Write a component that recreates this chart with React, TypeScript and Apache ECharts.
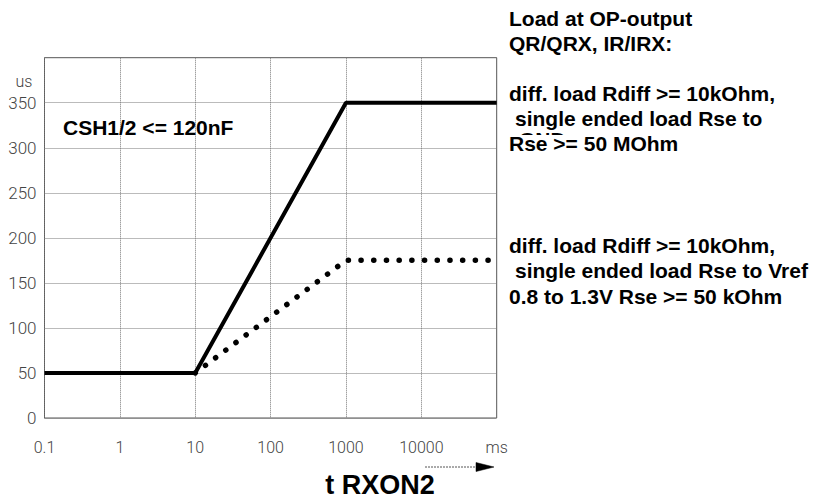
import React, { useEffect, useRef } from "react";
import * as echarts from "echarts";

const xTicks = [0.1, 1, 10, 100, 1000, 10000, 100000];
const xTickLabels = ["0.1", "1", "10", "100", "1000", "10000", "ms"];
const yTickHidden = [400];
const solidSeries: [number, number][] = [
  [0.1, 50],
  [10, 50],
  [1000, 350],
  [100000, 350],
];
const dottedSeries: [number, number][] = [
  [10, 50],
  [1000, 175],
  [100000, 175],
];
const noteTop = [
  "Load at OP-output",
  "QR/QRX, IR/IRX:",
  "",
  "diff. load Rdiff >= 10kOhm,",
  " single ended load Rse to",
  "Rse >= 50 MOhm",
];
const noteBottom = [
  "diff. load Rdiff >= 10kOhm,",
  " single ended load Rse to Vref",
  "0.8 to 1.3V Rse >= 50 kOhm",
];
const capText = "CSH1/2 <= 120nF";
const xTitle = "t RXON2";
const yUnit = "us";

export default function App() {
  const ref = useRef<HTMLDivElement>(null);
  useEffect(() => {
    if (!ref.current) return;
    const chart = echarts.init(ref.current, undefined, { renderer: "svg" });
    const boldFont = "Liberation Sans, Arial, sans-serif";
    const tickFont = "Roboto, Liberation Sans, sans-serif";
    const noteLine = (t: string, x: number, y: number) => ({
      type: "text",
      x: t.startsWith(" ") ? x + 6 : x,
      y,
      z: 10,
      style: {
        text: t.trim(),
        fill: "#000",
        font: `bold 21px ${boldFont}`,
        verticalAlign: "middle",
        align: "left",
      },
    });
    const topYs = [18, 43, 68, 93, 118, 143];
    const botYs = [245, 270, 296];
    const graphics: any[] = [];
    noteTop.forEach((t, i) => {
      if (t && i !== 5) graphics.push(noteLine(t, 509, topYs[i]));
    });
    // wrapped "GND" hidden behind last line
    graphics.push({
      type: "text",
      x: 519,
      y: 139,
      z: 9,
      style: { text: "GND", fill: "#000", font: `bold 21px ${boldFont}`, verticalAlign: "middle" },
    });
    graphics.push({
      type: "rect",
      z: 9,
      shape: { x: 505, y: 135, width: 70, height: 20 },
      style: { fill: "#fff" },
    });
    graphics.push(noteLine(noteTop[5], 509, topYs[5]));
    noteBottom.forEach((t, i) => graphics.push(noteLine(t, 509, botYs[i])));
    graphics.push({
      type: "text",
      x: 63,
      y: 127,
      z: 10,
      style: { text: capText, fill: "#000", font: `bold 21px ${boldFont}`, verticalAlign: "middle" },
    });
    graphics.push({
      type: "text",
      x: 380,
      y: 485,
      z: 10,
      style: { text: xTitle, fill: "#000", font: `bold 27px ${boldFont}`, verticalAlign: "middle", align: "center" },
    });
    graphics.push({
      type: "text",
      x: 24,
      y: 81,
      z: 10,
      style: { text: yUnit, fill: "#444", font: `300 16px ${tickFont}`, verticalAlign: "middle", align: "center" },
    });
    graphics.push({
      type: "line",
      z: 10,
      shape: { x1: 425, y1: 467, x2: 480, y2: 467 },
      style: { stroke: "#555", lineWidth: 1, lineDash: [2, 1] },
    });
    graphics.push({
      type: "polygon",
      z: 11,
      shape: { points: [[476, 462.5], [494, 467], [476, 471.5]] },
      style: { fill: "#000", stroke: "#000", lineWidth: 0.5 },
    });

    chart.setOption({
      animation: false,
      backgroundColor: "#fff",
      grid: {
        left: 44.5,
        right: 817 - 496.7,
        top: 57.7,
        bottom: 497 - 418,
        show: true,
        borderColor: "#555",
        borderWidth: 1,
      },
      xAxis: {
        type: "log",
        logBase: 10,
        min: 0.1,
        max: 100000,
        axisLine: { show: false },
        axisTick: { show: false },
        splitLine: { show: true, lineStyle: { color: "#777", type: [1, 1], width: 1 } },
        axisLabel: {
          margin: 21,
          color: "#444",
          fontSize: 16,
          fontFamily: tickFont,
          fontWeight: 300,
          showMinLabel: true,
          showMaxLabel: true,
          formatter: (v: number) => {
            const idx = xTicks.findIndex((t) => Math.abs(Math.log10(t) - Math.log10(v)) < 1e-6);
            return idx >= 0 ? xTickLabels[idx] : "";
          },
        },
      },
      yAxis: {
        type: "value",
        min: 0,
        max: 400,
        interval: 50,
        axisLine: { show: false },
        axisTick: { show: false },
        splitLine: { show: true, lineStyle: { color: "#777", type: [1, 1], width: 1 } },
        axisLabel: {
          margin: 8,
          color: "#444",
          fontSize: 17,
          fontFamily: tickFont,
          fontWeight: 300,
          formatter: (v: number) => (yTickHidden.includes(v) ? "" : String(v)),
        },
      },
      series: [
        {
          type: "line",
          data: solidSeries,
          symbol: "none",
          lineStyle: { color: "#000", width: 4 },
          z: 5,
        },
        {
          type: "line",
          data: dottedSeries,
          symbol: "none",
          lineStyle: { color: "#000", width: 5.5, type: [0.1, 12.6], cap: "round" },
          z: 5,
        },
      ],
      graphic: graphics,
    });
    return () => chart.dispose();
  }, []);
  return <div ref={ref} style={{ width: 817, height: 497, position: "absolute", left: 0, top: 0 }} />;
}
